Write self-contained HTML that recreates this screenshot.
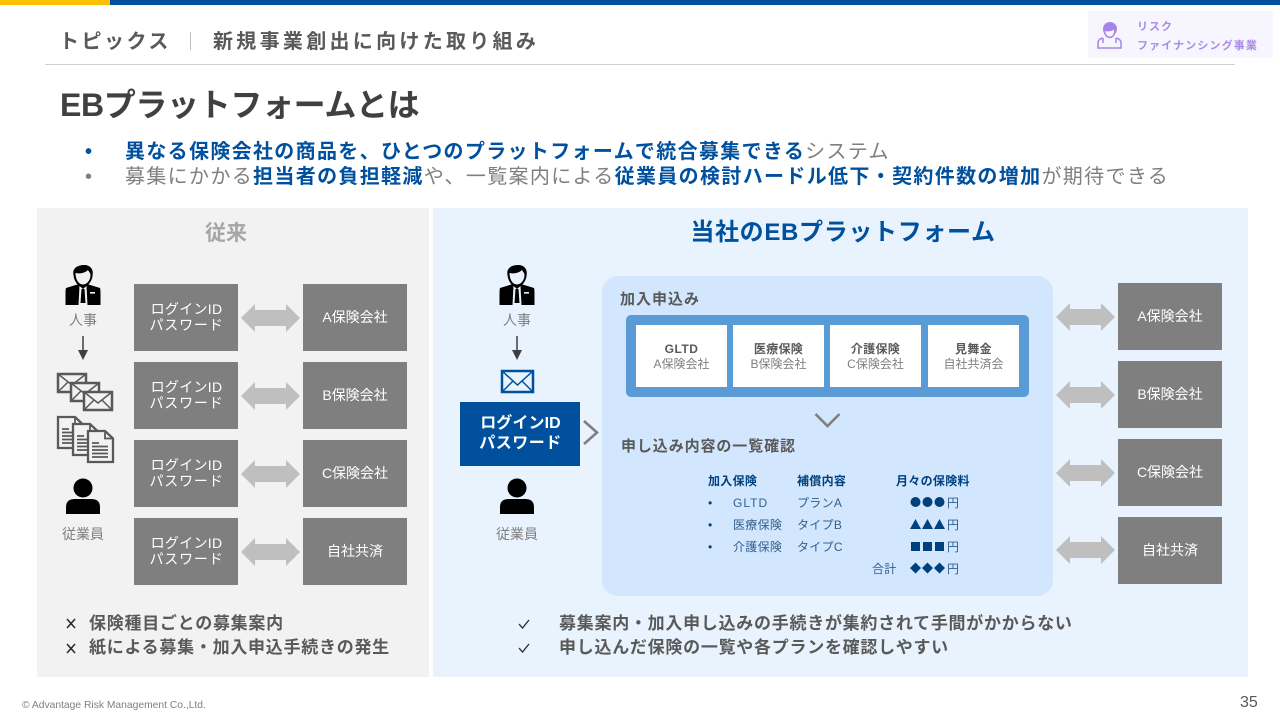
<!DOCTYPE html>
<html lang="ja"><head><meta charset="utf-8"><title>EBプラットフォームとは</title>
<style>
html,body{margin:0;padding:0;background:#fff}
svg{display:block}
text{font-family:"Liberation Sans","Noto Sans CJK JP",sans-serif}
.c{text-anchor:middle}
.b{font-weight:700}
.blue{fill:#00509e;font-weight:700}
</style></head><body>
<svg width="1280" height="720" viewBox="0 0 1280 720" xmlns="http://www.w3.org/2000/svg">
<defs>
<g id="man">
<path d="M-4,19 L-17,23 Q-17.500,24 -17.500,30 L-17.500,40 L17.500,40 L17.500,30 Q17.500,24 17,23 L4,19 Z" fill="#000"/>
<path d="M-9.500,10 C-11,3 -5,0 1,0 C7,0 11,4 9.500,11 C9,15 7,18 4,21 L-4,21 C-7,18 -9,15 -9.500,10 Z" fill="#000"/>
<path d="M-7.500,8 C-3,9 2,8 5,5 C6,7 7.500,8 7.500,10 C7.500,15 4,19.500 0,19.500 C-4,19.500 -7.500,15 -7.500,8 Z" fill="currentColor"/>
<path d="M-3.500,21 L0,24 L3.500,21 L4.500,40 L-4.500,40 Z" fill="currentColor"/>
<path d="M-1.500,24 L1.500,24 L2.500,38 L-2.500,38 Z" fill="#000"/>
<rect x="7" y="27" width="5" height="1.600" fill="currentColor"/>
</g>
<g id="emp">
<circle cx="0" cy="9" r="9.500" fill="#000"/>
<path d="M-17,35 L-17,28 Q-17,20 -8,20 L8,20 Q17,20 17,28 L17,35 Z" fill="#000"/>
</g>
<g id="env" fill="#f2f2f2" stroke="#595959" stroke-width="2.500">
<rect x="0" y="0" width="28" height="18"/>
<path d="M0,0 L14,11 L28,0 M0,18 L10,8 M28,18 L18,8" fill="none" stroke-width="1.500"/>
</g>
<g id="doc">
<path d="M1,1 L18,1 L26,8.500 L26,32 L1,32 Z" fill="#f2f2f2" stroke="#595959" stroke-width="2.300"/>
<path d="M18,1 L18,8.500 L26,8.500" fill="none" stroke="#595959" stroke-width="1.800"/>
<path d="M5,13 H12 M5,16.500 H21 M5,20 H21 M5,23.500 H21 M5,27 H21" stroke="#595959" stroke-width="1.800"/>
</g>
<path id="dbl" d="M0,14 L14,0 L14,6 L45,6 L45,0 L59,14 L45,28 L45,22 L14,22 L14,28 Z" fill="#bfbfbf"/>
</defs>

<rect width="1280" height="720" fill="#fff"/>
<rect x="0" y="0" width="1280" height="5" fill="#00509e"/>
<rect x="0" y="0" width="110" height="5" fill="#ffc000"/>

<text x="59" y="48" font-size="20" fill="#595959" class="b" letter-spacing="2.500">トピックス</text>
<rect x="190" y="32" width="1" height="18" fill="#bfbfbf"/>
<text x="213" y="48" font-size="20" fill="#595959" class="b" letter-spacing="3.300">新規事業創出に向けた取り組み</text>
<rect x="45" y="64" width="1190" height="1" fill="#d0d0d0"/>

<rect x="1088" y="11" width="185" height="47" fill="#f7f5fe"/>
<g fill="none" stroke="#a585ea" stroke-width="1.500">
<circle cx="1110" cy="29" r="7" fill="#a585ea" stroke="none"/>
<path d="M1104,30 Q1110,32 1115,28 Q1115,37 1110,37.500 Q1105,37 1104,30Z" fill="#f7f5fe" stroke="#a585ea"/>
<path d="M1103,38 Q1098,39 1098,43 L1098,48 L1121,48 L1121,43 Q1121,39 1116,38"/>
<path d="M1103,38 V43 M1116,38 V43"/>
</g>
<text x="1137" y="30" font-size="11" fill="#a98ce8" class="b" letter-spacing="1">リスク</text>
<text x="1137" y="49" font-size="11" fill="#a98ce8" class="b" letter-spacing="1.120">ファイナンシング事業</text>

<text x="60" y="116" font-size="32" fill="#404040" class="b" letter-spacing="-.35">EBプラットフォームとは</text>

<text x="85" y="158" font-size="20" fill="#00509e" class="b">•</text>
<text x="85" y="183" font-size="20" fill="#7f7f7f">•</text>
<text x="125" y="158" font-size="20" fill="#7f7f7f" letter-spacing="1.330"><tspan class="blue">異なる保険会社の商品を、ひとつのプラットフォームで統合募集できる</tspan>システム</text>
<text x="125" y="183" font-size="20" fill="#7f7f7f" letter-spacing="1.340">募集にかかる<tspan class="blue">担当者の負担軽減</tspan>や、一覧案内による<tspan class="blue">従業員の検討ハードル低下・契約件数の増加</tspan>が期待できる</text>

<rect x="37" y="208" width="392" height="469" fill="#f2f2f2"/>
<rect x="433" y="208" width="815" height="469" fill="#e8f3fe"/>

<text x="226" y="240" font-size="21" fill="#a6a6a6" class="b c">従来</text>
<text x="843" y="240" font-size="24" fill="#00509e" class="b c" letter-spacing=".67">当社のEBプラットフォーム</text>

<!-- left column -->
<use href="#man" x="83" y="265" color="#f2f2f2"/>
<text x="83" y="325" font-size="14" fill="#7f7f7f" class="c">人事</text>
<path d="M83,336 V352" stroke="#404040" stroke-width="1.500"/>
<path d="M78,350 H88 L83,360 Z" fill="#404040"/>
<use href="#env" x="58" y="374"/>
<use href="#env" x="71" y="383"/>
<use href="#env" x="84" y="392"/>
<use href="#doc" x="57" y="416"/>
<use href="#doc" x="72" y="423"/>
<use href="#doc" x="87" y="430"/>
<use href="#emp" x="83" y="479"/>
<text x="83" y="539" font-size="14" fill="#7f7f7f" class="c">従業員</text>

<g fill="#7f7f7f">
<rect x="134" y="284" width="104" height="67"/><rect x="303" y="284" width="104" height="67"/>
<rect x="134" y="362" width="104" height="67"/><rect x="303" y="362" width="104" height="67"/>
<rect x="134" y="440" width="104" height="67"/><rect x="303" y="440" width="104" height="67"/>
<rect x="134" y="518" width="104" height="67"/><rect x="303" y="518" width="104" height="67"/>
</g>
<use href="#dbl" x="241" y="304"/><use href="#dbl" x="241" y="382"/><use href="#dbl" x="241" y="460"/><use href="#dbl" x="241" y="538"/>
<g font-size="14" fill="#fff" class="c">
<text x="186.500" y="314" letter-spacing=".3">ログインID</text><text x="186.500" y="330" letter-spacing=".8">パスワード</text>
<text x="186.500" y="392" letter-spacing=".3">ログインID</text><text x="186.500" y="408" letter-spacing=".8">パスワード</text>
<text x="186.500" y="470" letter-spacing=".3">ログインID</text><text x="186.500" y="486" letter-spacing=".8">パスワード</text>
<text x="186.500" y="548" letter-spacing=".3">ログインID</text><text x="186.500" y="564" letter-spacing=".8">パスワード</text>
<text x="355" y="322">A保険会社</text>
<text x="355" y="400">B保険会社</text>
<text x="355" y="478">C保険会社</text>
<text x="355" y="556">自社共済</text>
</g>

<!-- right column -->
<use href="#man" x="517" y="265" color="#e8f3fe"/>
<text x="517" y="325" font-size="14" fill="#7f7f7f" class="c">人事</text>
<path d="M517,336 V352" stroke="#404040" stroke-width="1.500"/>
<path d="M512,350 H522 L517,360 Z" fill="#404040"/>
<rect x="502" y="371" width="31" height="21" fill="#e8f3fe" stroke="#00509e" stroke-width="2.500"/>
<path d="M502,371 L517.500,385 L533,371 M502,392 L513,381 M533,392 L522,381" fill="none" stroke="#00509e" stroke-width="1.500"/>
<rect x="460" y="402" width="120" height="64" fill="#00509e"/>
<text x="520.500" y="428" font-size="16" fill="#fff" class="b c" letter-spacing=".1">ログインID</text>
<text x="520.500" y="448" font-size="16" fill="#fff" class="b c" letter-spacing=".5">パスワード</text>
<path d="M584,421 L597,432.500 L584,444" fill="none" stroke="#7f7f7f" stroke-width="2.600"/>
<use href="#emp" x="517" y="479"/>
<text x="517" y="539" font-size="14" fill="#7f7f7f" class="c">従業員</text>

<rect x="602" y="276" width="451" height="320" rx="16" fill="#d2e7fd"/>
<text x="620" y="304" font-size="15" fill="#595959" class="b" letter-spacing="1">加入申込み</text>
<rect x="626" y="315" width="403" height="82" rx="5" fill="#5b9bd5"/>
<g fill="#fff">
<rect x="636" y="325" width="91" height="62"/><rect x="733" y="325" width="91" height="62"/>
<rect x="830" y="325" width="91" height="62"/><rect x="928" y="325" width="91" height="62"/>
</g>
<g font-size="12" class="c">
<text x="681.500" y="353" fill="#595959" class="b" letter-spacing=".5">GLTD</text><text x="681.500" y="368" fill="#7f7f7f">A保険会社</text>
<text x="778.500" y="353" fill="#595959" class="b" letter-spacing=".3">医療保険</text><text x="778.500" y="368" fill="#7f7f7f">B保険会社</text>
<text x="875.500" y="353" fill="#595959" class="b" letter-spacing=".3">介護保険</text><text x="875.500" y="368" fill="#7f7f7f">C保険会社</text>
<text x="973.500" y="353" fill="#595959" class="b" letter-spacing=".3">見舞金</text><text x="973.500" y="368" fill="#7f7f7f">自社共済会</text>
</g>
<path d="M815.500,414 L827.500,426 L839.500,414" fill="none" stroke="#7f7f7f" stroke-width="2.600"/>
<text x="621" y="451" font-size="15" fill="#595959" class="b" letter-spacing=".9">申し込み内容の一覧確認</text>

<g font-size="12" fill="#00407f" letter-spacing=".3">
<text x="708" y="485" class="b">加入保険</text><text x="797" y="485" class="b">補償内容</text><text x="896" y="485" class="b">月々の保険料</text>
<text x="708" y="507">•</text><text x="733" y="507" letter-spacing="1" fill="#33608f">GLTD</text><text x="797" y="507" fill="#33608f">プランA</text>
<text x="708" y="529">•</text><text x="733" y="529" fill="#33608f">医療保険</text><text x="797" y="529" fill="#33608f">タイプB</text>
<text x="708" y="551">•</text><text x="733" y="551" fill="#33608f">介護保険</text><text x="797" y="551" fill="#33608f">タイプC</text>
<text x="872" y="573" fill="#33608f">合計</text>
<text x="947" y="507" fill="#33608f">円</text><text x="947" y="529" fill="#33608f">円</text><text x="947" y="551" fill="#33608f">円</text><text x="947" y="573" fill="#33608f">円</text>
</g>
<g fill="#00407f">
<circle cx="915.500" cy="502" r="5"/><circle cx="927.500" cy="502" r="5"/><circle cx="939.500" cy="502" r="5"/>
<path d="M910,529 L915.500,519 L921,529Z M922,529 L927.500,519 L933,529Z M934,529 L939.500,519 L945,529Z"/>
<rect x="911" y="542" width="9" height="9"/><rect x="923" y="542" width="9" height="9"/><rect x="935" y="542" width="9" height="9"/>
<path d="M910,568 L915.500,562.500 L921,568 L915.500,573.500Z M922,568 L927.500,562.500 L933,568 L927.500,573.500Z M934,568 L939.500,562.500 L945,568 L939.500,573.500Z"/>
</g>

<use href="#dbl" x="1056" y="303"/><use href="#dbl" x="1056" y="381"/><use href="#dbl" x="1056" y="459"/><use href="#dbl" x="1056" y="536"/>
<g fill="#7f7f7f">
<rect x="1118" y="283" width="104" height="67"/><rect x="1118" y="361" width="104" height="67"/>
<rect x="1118" y="439" width="104" height="67"/><rect x="1118" y="517" width="104" height="67"/>
</g>
<g font-size="14" fill="#fff" class="c">
<text x="1170" y="321">A保険会社</text><text x="1170" y="399">B保険会社</text>
<text x="1170" y="477">C保険会社</text><text x="1170" y="555">自社共済</text>
</g>

<!-- bottom notes -->
<g font-size="17" fill="#595959" class="b" letter-spacing=".73">
<text x="89" y="629">保険種目ごとの募集案内</text>
<text x="89" y="653">紙による募集・加入申込手続きの発生</text>
<text x="559" y="629">募集案内・加入申し込みの手続きが集約されて手間がかからない</text>
<text x="559" y="653">申し込んだ保険の一覧や各プランを確認しやすい</text>
</g>
<path d="M67,619 L75,628 M75,619 L67,628 M67,644 L75,653 M75,644 L67,653" stroke="#262626" stroke-width="1.500" fill="none"/>
<path d="M519,624 L522.500,628 L529,620 M519,648 L522.500,652 L529,644" stroke="#262626" stroke-width="1.300" fill="none"/>

<text x="22" y="708" font-size="10.300" fill="#7f7f7f">© Advantage Risk Management Co.,Ltd.</text>
<text x="1240" y="707" font-size="16" fill="#595959">35</text>
</svg>
</body></html>
